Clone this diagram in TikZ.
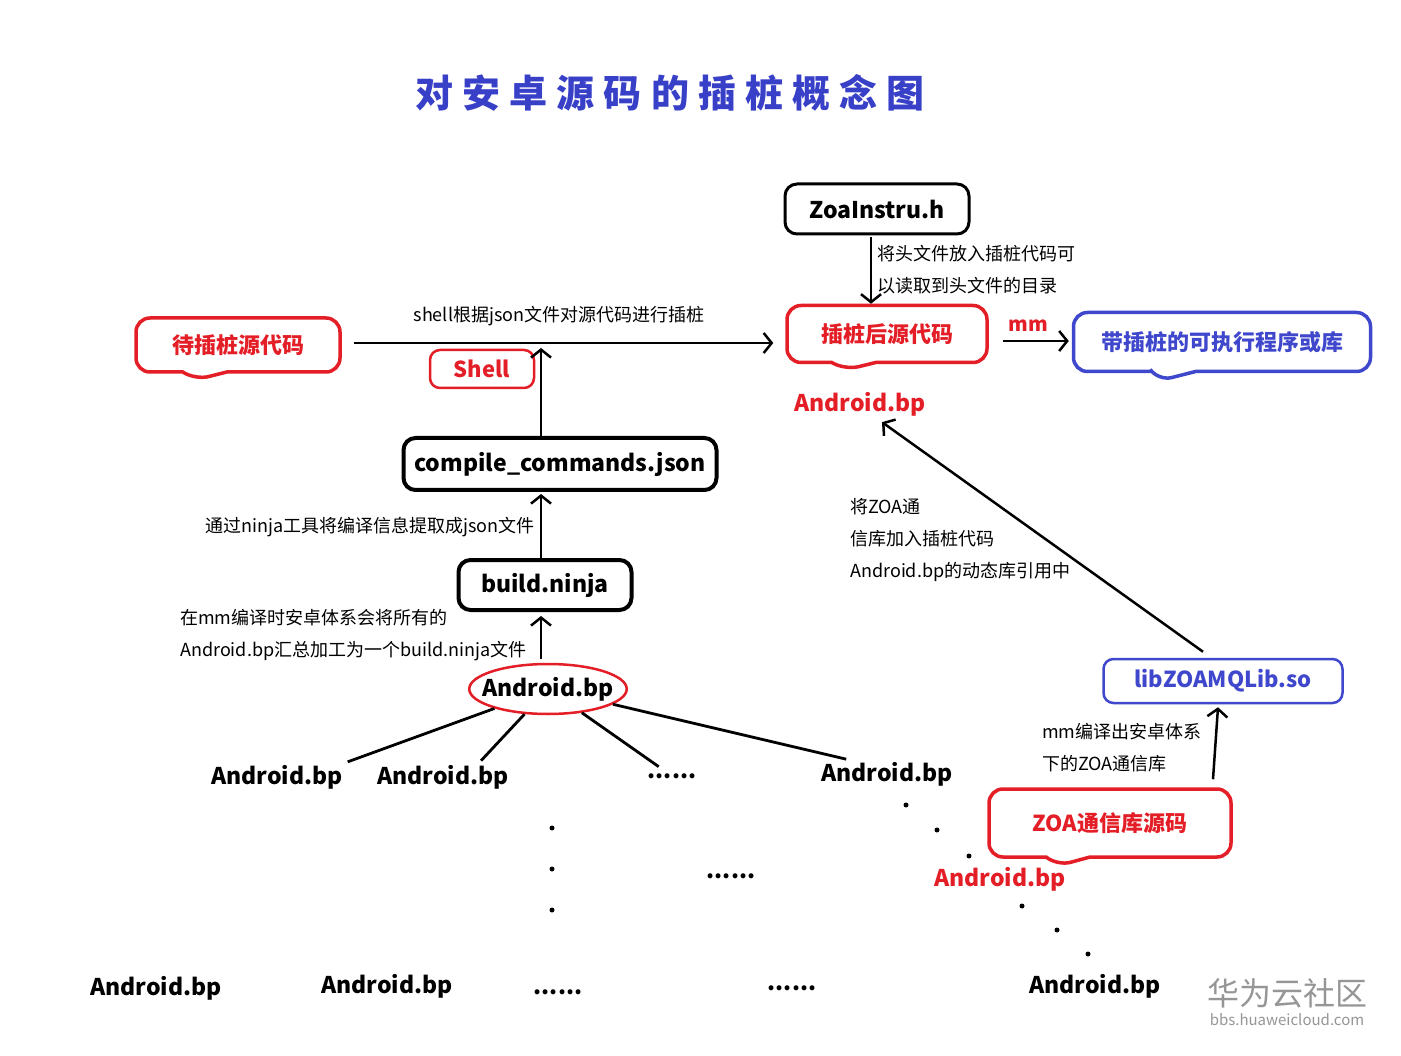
\documentclass[tikz,border=0pt]{standalone}
\usepackage{fontspec}
\setmainfont{Noto Sans CJK SC}
\usetikzlibrary{arrows.meta,shapes.geometric,shapes.callouts}
\definecolor{bubred}{HTML}{E41E26}
\definecolor{bubblue}{HTML}{3F48CC}
\definecolor{titleblue}{HTML}{3840C8}
\definecolor{markgray}{RGB}{150,150,150}

\tikzset{
  arr/.style={line width=2.5pt,-{Straight Barb[length=8pt,width=20pt,line width=2.5pt]}},
  tree/.style={line width=2.8pt,shorten >=3pt},
  blackbox/.style={draw,line width=4pt,rounded corners=12pt,inner sep=0pt,
    font=\fontsize{23}{28}\selectfont\bfseries},
  redcall/.style={rectangle callout,draw=bubred,line width=3.5pt,rounded corners=14pt,
    inner sep=0pt,callout pointer width=44pt,text=bubred,font=\fontsize{22}{28}\selectfont\bfseries},
  bluecall/.style={redcall,draw=bubblue,text=bubblue},
  redbox/.style={draw=bubred,line width=2.5pt,rounded corners=10pt,inner sep=0pt,
    text=bubred,font=\fontsize{22}{28}\selectfont\bfseries},
  bluebox/.style={redbox,draw=bubblue,text=bubblue},
  bp/.style={inner sep=2pt,font=\fontsize{23}{28}\selectfont\bfseries},
  redbp/.style={bp,text=bubred},
  note/.style={inner sep=0pt,align=left,font=\fontsize{18}{32}\selectfont}
}

\begin{document}
\begin{tikzpicture}[x=1pt,y=-1pt]
            \fill[white] (0,0) rectangle (1401,1056);
            \useasboundingbox (0,0) rectangle (1401,1056);

            \node[text=titleblue,font=\fontsize{38}{44}\selectfont\bfseries\addfontfeatures{LetterSpace=24}] (title) at (670,93) {对安卓源码的插桩概念图};

            % boxes
            \node[blackbox,minimum width=184pt,minimum height=50pt,line width=3pt] (zoa) at (877,209) {ZoaInstru.h};
            \node[blackbox,minimum width=313pt,minimum height=52pt] (json) at (560,464) {compile\_commands.json};
            \node[blackbox,minimum width=173pt,minimum height=50pt] (ninja) at (545,585) {build.ninja};
            \node[redcall,minimum width=204pt,minimum height=54pt,callout absolute pointer={(195,380)}] (src) at (238,345) {待插桩源代码};
            \node[redcall,minimum width=200pt,minimum height=57pt,callout absolute pointer={(845,370)}] (inst) at (887,334) {插桩后源代码};
            \node[bluecall,minimum width=297pt,minimum height=59pt,callout absolute pointer={(1158,381)}] (exe) at (1222,342) {带插桩的可执行程序或库};
            \node[redbox,minimum width=104pt,minimum height=38pt] (shell) at (482,369) {Shell};
            \node[bluebox,minimum width=239pt,minimum height=44pt] (lib) at (1223,681) {libZOAMQLib.so};
            \node[redcall,minimum width=242pt,minimum height=68pt,callout absolute pointer={(1057,866)}] (zoasrc) at (1110,823) {ZOA通信库源码};
            \node[ellipse,draw=bubred,line width=2.5pt,minimum width=157pt,minimum height=50pt,inner xsep=-10pt,inner ysep=0pt,
                  font=\fontsize{23}{28}\selectfont\bfseries] (root) at (548,689) {Android.bp};
            \node[redbp] (instbp) at (860,404) {Android.bp};
            \node[redbp] (zoabp) at (1000,879) {Android.bp};

            % tree
            \node[bp] (l1a) at (277,777) {Android.bp};
            \node[bp] (l1b) at (443,777) {Android.bp};
            \node[bp] (l1c) at (672,776) {......};
            \node[bp] (l1d) at (887,774) {Android.bp};
            \node[bp] (mid) at (731,876) {......};
            \node[bp] (b1) at (156,988) {Android.bp};
            \node[bp] (b2) at (387,986) {Android.bp};
            \node[bp] (b3) at (558,992) {......};
            \node[bp] (b4) at (792,988) {......};
            \node[bp] (b5) at (1095,986) {Android.bp};

            \draw[tree] (root) -- (l1a.north east);
            \draw[tree] (root) -- ([xshift=36pt]l1b.north);
            \draw[tree,shorten >=8pt] (root) -- (l1c);
            \draw[tree] (root) -- ([xshift=30pt]l1d.north west);
            \foreach \y in {828,869,910}
              \fill (552,\y) circle (2.5);
            \foreach \x/\y in {906/805,937/830,969/856,1022/906,1057/930,1088/954}
              \fill (\x,\y) circle (2.5);

            % arrows
            \coordinate (hit) at (541,348);
            \draw[arr] ([xshift=12pt,yshift=2pt]src.east) -- ([xshift=-12pt,yshift=2pt]src.east -| inst.west);
            \draw[arr] (hit |- json.north) -- (hit);
            \draw[arr] (hit |- ninja.north) -- ([yshift=-2pt]hit |- json.south);
            \draw[arr] ([yshift=4pt]hit |- root.north) -- ([yshift=-4pt]hit |- ninja.south);
            \draw[arr] ([xshift=-6pt,yshift=-2pt]zoa.south) -- ([xshift=-6pt]zoa.south |- inst.north);
            \draw[arr] ([xshift=14pt,yshift=-7pt]inst.east) -- ([xshift=-3pt,yshift=-7pt]inst.east -| exe.west);
            \draw[arr] ([xshift=-20pt,yshift=6pt]lib.north) -- ([xshift=22pt,yshift=-4pt]instbp.south);
            \draw[arr] ([xshift=103pt,yshift=8pt]zoasrc.north) -- ([xshift=-5pt,yshift=-3pt]lib.south);

            % labels
            \node[note] (shlab) at (559,316) {shell根据json文件对源代码进行插桩};
            \node[note,anchor=east] (ninjalab) at (535,527) {通过ninja工具将编译信息提取成json文件};
            \node[note,anchor=west] (bplab) at (180,635) {在mm编译时安卓体系会将所有的\\Android.bp汇总加工为一个build.ninja文件};
            \node[note,anchor=west] (hdrlab) at (877,270) {将头文件放入插桩代码可\\以读取到头文件的目录};
            \node[note,anchor=west] (liblab) at (850,540) {将ZOA通\\信库加入插桩代码\\Android.bp的动态库引用中};
            \node[note,anchor=west] (mmlab) at (1042,748) {mm编译出安卓体系\\下的ZOA通信库};
            \node[text=bubred,font=\fontsize{20}{24}\selectfont\bfseries] (mm) at (1028,326) {mm};

            \node[text=markgray,font=\fontsize{32}{36}\selectfont] (mark) at (1287,993) {华为云社区};
            \node[text=markgray,font=\fontsize{15}{18}\selectfont] (markurl) at (1287,1020) {bbs.huaweicloud.com};
\end{tikzpicture}
\end{document}
